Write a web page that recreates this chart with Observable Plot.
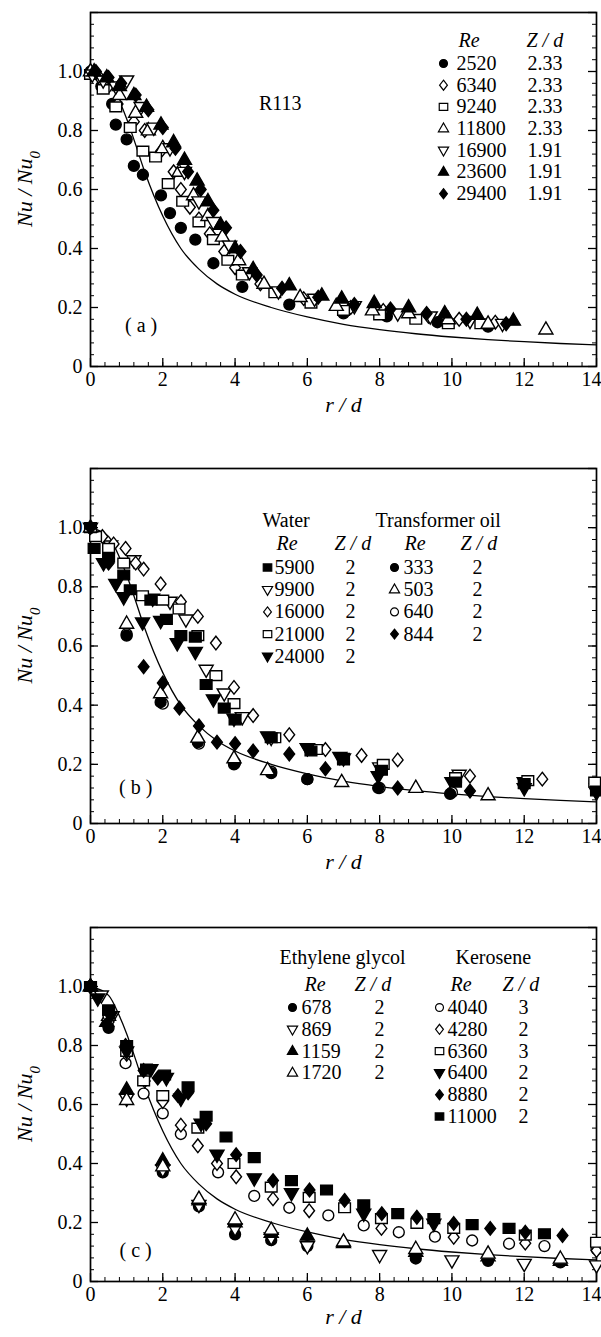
<!DOCTYPE html>
<html><head><meta charset="utf-8">
<script src="https://cdn.jsdelivr.net/npm/d3@7"></script>
<script src="https://cdn.jsdelivr.net/npm/@observablehq/plot@0.6"></script>
<style>
body{margin:0;background:#fff;}
#chart svg{display:block;}
#chart svg text{font-family:"Liberation Serif", serif;}
</style></head><body><div id="chart"></div>
<script>
// ---------- shared correlation curve ----------
const curveR  = [0,0.5,0.8,1.0,1.2,1.5,2.0,2.5,3.0,3.5,4.0,5.0,6.0,7.0,8.0,9.0,10.0,11.0,12.0,13.0,14.0];
const curveNu = [1.0,0.97,0.9,0.84,0.77,0.66,0.51,0.4,0.33,0.28,0.245,0.2,0.168,0.143,0.125,0.111,0.1,0.091,0.084,0.078,0.073];

const xTickLabels = [0,2,4,6,8,10,12];
const xLastTick = [14];
const yTickLabels = [0,0.2,0.4,0.6,0.8,1.0];

// ---------- panel (a) R113 ----------
const R113_re = ["2520","6340","9240","11800","16900","23600","29400"];
const R113_zd = ["2.33","2.33","2.33","2.33","1.91","1.91","1.91"];
const R113_2520_r  = [0,0.3,0.6,0.7,1.0,1.2,1.45,1.95,2.2,2.5,2.9,3.4,4.2,5.5,7.0,8.2,9.6,11.0];
const R113_2520_nu = [1.0,0.95,0.89,0.82,0.77,0.68,0.65,0.58,0.52,0.47,0.43,0.35,0.27,0.21,0.18,0.17,0.15,0.135];
const R113_6340_r  = [0,0.25,0.5,0.75,1.2,1.5,1.95,2.3,2.5,2.75,3.0,3.3,3.7,4.0,4.7,5.9,7.2,8.1,9.35,10.2,11.2];
const R113_6340_nu = [1.0,0.98,0.95,0.89,0.83,0.8,0.73,0.66,0.6,0.54,0.5,0.45,0.39,0.335,0.28,0.23,0.2,0.19,0.17,0.16,0.15];
const R113_9240_r  = [0,0.35,0.7,1.1,1.45,1.8,2.15,2.55,3.0,3.4,3.8,4.2,5.1,6.1,7.0,8.0,9.0,9.9,10.8];
const R113_9240_nu = [0.99,0.94,0.88,0.81,0.73,0.71,0.62,0.56,0.49,0.43,0.36,0.31,0.25,0.215,0.19,0.175,0.16,0.145,0.145];
const R113_11800_r  = [0,0.4,0.8,1.25,1.6,2.0,2.45,2.85,3.25,3.65,4.1,4.8,5.8,6.8,7.8,8.8,9.9,11.0,12.6];
const R113_11800_nu = [1.0,0.97,0.92,0.86,0.8,0.74,0.66,0.58,0.51,0.44,0.36,0.28,0.235,0.205,0.19,0.18,0.16,0.145,0.125];
const R113_16900_r  = [0.05,0.35,0.7,1.0,1.4,1.75,2.2,2.6,3.0,3.4,3.85,4.4,5.2,6.2,7.3,8.5,9.4,10.5,11.4];
const R113_16900_nu = [0.99,0.97,0.95,0.97,0.88,0.81,0.74,0.66,0.56,0.49,0.41,0.32,0.255,0.23,0.205,0.18,0.17,0.155,0.145];
const R113_23600_r  = [0.1,0.45,0.8,1.2,1.55,1.95,2.3,2.6,2.95,3.25,3.6,4.0,4.5,5.5,6.4,6.95,7.85,8.8,9.8,10.7,11.7];
const R113_23600_nu = [1.0,0.98,0.95,0.92,0.88,0.82,0.76,0.7,0.63,0.56,0.48,0.4,0.33,0.275,0.24,0.23,0.215,0.2,0.18,0.175,0.155];
const R113_29400_r  = [0.15,0.5,0.85,1.25,1.6,2.0,2.35,2.7,3.05,3.4,3.75,4.15,4.6,5.3,6.3,7.3,8.3,9.3,10.4,11.5];
const R113_29400_nu = [1.0,0.98,0.96,0.92,0.87,0.81,0.74,0.66,0.6,0.53,0.47,0.39,0.31,0.265,0.235,0.21,0.195,0.18,0.16,0.145];

// ---------- panel (b) water / transformer oil ----------
const water_re = ["5900","9900","16000","21000","24000"];
const water_zd = ["2","2","2","2","2"];
const oil_re = ["333","503","640","844"];
const oil_zd = ["2","2","2","2"];
const water_5900_r  = [0,0.1,0.5,0.92,1.1,1.67,2.1,2.5,2.9,3.2,3.7,4.0,5.0,6.1,7.0,8.05,10.1,12.0,14.0];
const water_5900_nu = [1.0,0.93,0.9,0.84,0.79,0.755,0.69,0.635,0.63,0.47,0.39,0.35,0.29,0.245,0.22,0.18,0.14,0.135,0.11];
const water_9900_r  = [0,0.56,1.2,1.72,2.2,2.64,3.2,3.7,4.2,5.0,6.0,7.0,8.0,10.2,12.0,14.0];
const water_9900_nu = [1.0,0.94,0.89,0.76,0.75,0.69,0.52,0.44,0.36,0.29,0.255,0.22,0.19,0.165,0.14,0.12];
const water_16000_r  = [0,0.33,0.64,0.97,1.25,1.47,1.94,2.5,2.97,3.47,3.97,4.5,5.5,6.5,7.5,8.5,10.5,12.5];
const water_16000_nu = [1.0,0.97,0.945,0.93,0.88,0.86,0.81,0.75,0.7,0.61,0.46,0.365,0.3,0.25,0.23,0.215,0.16,0.15];
const water_21000_r  = [0.14,0.5,0.92,1.44,2.0,2.45,2.97,3.47,3.97,5.1,6.25,7.0,8.1,10.1,12.1,13.95];
const water_21000_nu = [0.97,0.93,0.88,0.77,0.755,0.725,0.635,0.5,0.405,0.29,0.25,0.215,0.2,0.155,0.145,0.14];
const water_24000_r  = [0.36,0.7,0.92,1.44,1.94,2.4,2.9,3.4,3.97,4.9,6.0,6.9,7.96,10.0,12.0,14.0];
const water_24000_nu = [0.88,0.81,0.765,0.68,0.685,0.61,0.58,0.42,0.355,0.295,0.255,0.225,0.16,0.14,0.12,0.105];
const oil_333_r  = [0,1.0,1.94,2.97,3.97,5.0,6.0,7.96,9.95];
const oil_333_nu = [1.0,0.635,0.41,0.275,0.2,0.17,0.15,0.12,0.1];
const oil_503_r  = [0,1.0,1.94,2.97,3.97,4.9,6.95,9.0,11.0];
const oil_503_nu = [1.0,0.675,0.44,0.29,0.22,0.18,0.14,0.12,0.095];
const oil_640_r  = [0,1.0,2.0,3.0,4.0,5.0,6.0,8.0,10.0];
const oil_640_nu = [1.0,0.64,0.405,0.27,0.205,0.175,0.15,0.12,0.105];
const oil_844_r  = [0,0.5,1.47,2.0,2.46,3.0,3.5,4.0,4.5,5.5,6.5,8.5,10.5];
const oil_844_nu = [1.0,0.88,0.53,0.475,0.39,0.33,0.275,0.27,0.245,0.235,0.185,0.12,0.11];

// ---------- panel (c) ethylene glycol / kerosene ----------
const glycol_re = ["678","869","1159","1720"];
const glycol_zd = ["2","2","2","2"];
const kero_re = ["4040","4280","6360","6400","8880","11000"];
const kero_zd = ["3","2","3","2","2","2"];
const glycol_678_r  = [0,0.5,2.0,3.0,4.0,5.0,6.0,9.0,11.0,13.0];
const glycol_678_nu = [1.0,0.86,0.37,0.255,0.16,0.14,0.12,0.078,0.07,0.065];
const glycol_869_r  = [0.3,0.6,1.0,2.0,3.0,4.0,5.0,6.0,8.0,10.0,12.0,14.0];
const glycol_869_nu = [0.97,0.9,0.62,0.38,0.26,0.18,0.15,0.12,0.09,0.072,0.06,0.055];
const glycol_1159_r  = [0,0.45,1.0,2.0,3.0,4.0,5.0,6.0,7.0,9.0,11.0,13.0];
const glycol_1159_nu = [1.0,0.88,0.65,0.41,0.275,0.2,0.165,0.155,0.13,0.1,0.085,0.07];
const glycol_1720_r  = [0,0.5,1.0,2.0,3.0,4.0,5.0,7.0,9.0,11.0,13.0];
const glycol_1720_nu = [1.0,0.9,0.615,0.39,0.28,0.21,0.175,0.135,0.11,0.094,0.077];
const kero_4040_r  = [0,0.5,0.97,1.47,2.0,2.5,3.53,4.53,5.5,6.58,7.56,8.53,9.53,10.56,11.58,12.56,14.0];
const kero_4040_nu = [1.0,0.9,0.74,0.637,0.57,0.5,0.37,0.29,0.25,0.224,0.19,0.167,0.152,0.139,0.128,0.12,0.11];
const kero_4280_r  = [0,0.5,1.0,1.5,2.0,2.5,2.97,3.5,4.03,5.05,6.05,8.05,10.05,12.03,14.0];
const kero_4280_nu = [1.0,0.88,0.77,0.68,0.61,0.53,0.46,0.4,0.355,0.28,0.24,0.18,0.15,0.13,0.105];
const kero_6360_r  = [0,0.5,1.0,1.47,2.0,2.97,3.97,5.0,6.05,7.03,8.05,9.03,10.05,12.03,14.0];
const kero_6360_nu = [1.0,0.92,0.78,0.68,0.63,0.52,0.4,0.32,0.285,0.25,0.213,0.197,0.18,0.157,0.133];
const kero_6400_r  = [0.2,0.55,1.0,1.67,2.1,2.5,3.06,3.5,4.53,5.56,7.56,9.5];
const kero_6400_nu = [0.96,0.9,0.78,0.72,0.69,0.62,0.535,0.43,0.35,0.3,0.23,0.196];
const kero_8880_r  = [0,0.45,0.97,1.47,1.86,2.42,2.7,3.2,4.03,5.05,6.06,7.03,8.06,9.03,10.05,11.06,12.03,13.06];
const kero_8880_nu = [1.0,0.87,0.8,0.715,0.69,0.63,0.64,0.535,0.43,0.342,0.31,0.275,0.23,0.218,0.197,0.18,0.167,0.156];
const kero_11000_r  = [0,0.5,1.0,1.55,2.05,2.7,3.2,3.75,4.53,5.56,6.53,7.56,8.5,9.5,10.56,11.58,12.56];
const kero_11000_nu = [1.0,0.92,0.8,0.72,0.7,0.66,0.56,0.49,0.42,0.342,0.31,0.26,0.23,0.213,0.193,0.18,0.162];

// ---------- styling ----------
const FONT = "Liberation Serif, serif";
const FS = 20;
const W = 601, ML = 90, MR = 5;
const XMAX = 14, YMAX = 1.2;
const pxX = (W - ML - MR) / XMAX;

const SYM = {
  circle: {draw(c, s) { const k = Math.sqrt(s), r = 0.56 * k; c.moveTo(r, 0); c.arc(0, 0, r, 0, 2 * Math.PI); }},
  square: {draw(c, s) { const k = Math.sqrt(s), w = 0.6 * k, h = 0.5 * k; c.moveTo(-w, -h); c.lineTo(w, -h); c.lineTo(w, h); c.lineTo(-w, h); c.closePath(); }},
  diamond: {draw(c, s) { const k = Math.sqrt(s), w = 0.55 * k, h = 0.7 * k; c.moveTo(0, -h); c.lineTo(w, 0); c.lineTo(0, h); c.lineTo(-w, 0); c.closePath(); }},
  up: {draw(c, s) { const k = Math.sqrt(s); c.moveTo(0, -0.8 * k); c.lineTo(0.72 * k, 0.45 * k); c.lineTo(-0.72 * k, 0.45 * k); c.closePath(); }},
  down: {draw(c, s) { const k = Math.sqrt(s); c.moveTo(0, 0.8 * k); c.lineTo(0.72 * k, -0.45 * k); c.lineTo(-0.72 * k, -0.45 * k); c.closePath(); }}
};

function series(rs, nus, shape, filled) {
  return {data: rs.map((r, i) => ({r, nu: nus[i]})), shape, filled};
}
function range(a, b, step) { const out = []; for (let v = a; v <= b + 1e-9; v += step) out.push(+v.toFixed(4)); return out; }

function makePanel({height, mt, mb, xTitleOffset, list, legendCols, notes, titles}) {
  const plotH = height - mt - mb;
  const pxY = plotH / YMAX;
  const dx = X => (X - ML) / pxX;           // svg px -> data x
  const dy = Y => (height - mb - Y) / pxY;  // svg px -> data y
  const marks = [];
  const yMinor = range(0, YMAX, 0.04), yMajor = range(0, YMAX, 0.2);
  const xMinor = range(0, XMAX, 0.4), xMajor = range(0, XMAX, 2);
  marks.push(Plot.ruleY(yMinor, {y: d => d, x1: 0, x2: 4 / pxX, stroke: "black", strokeWidth: 1}));
  marks.push(Plot.ruleY(yMajor, {y: d => d, x1: 0, x2: 8 / pxX, stroke: "black", strokeWidth: 1.3}));
  marks.push(Plot.ruleY(yMinor, {y: d => d, x1: XMAX - 4 / pxX, x2: XMAX, stroke: "black", strokeWidth: 1}));
  marks.push(Plot.ruleY(yMajor, {y: d => d, x1: XMAX - 8 / pxX, x2: XMAX, stroke: "black", strokeWidth: 1.3}));
  marks.push(Plot.ruleX(xMinor, {x: d => d, y1: 0, y2: 4 / pxY, stroke: "black", strokeWidth: 1}));
  marks.push(Plot.ruleX(xMajor, {x: d => d, y1: 0, y2: 8 / pxY, stroke: "black", strokeWidth: 1.3}));
  marks.push(Plot.frame({stroke: "black", strokeWidth: 1.7}));
  marks.push(Plot.axisX({ticks: xTickLabels, tickSize: 0, tickPadding: 5, tickFormat: d => String(d), label: null, fontSize: FS}));
  marks.push(Plot.text(xLastTick, {x: d => d, y: 0, dy: 5, dx: -5, lineAnchor: "top", text: d => String(d), fontSize: FS}));
  marks.push(Plot.axisY({ticks: yTickLabels, tickSize: 0, tickPadding: 8, tickFormat: d => d === 0 ? "0" : d.toFixed(1), label: null, fontSize: FS}));
  marks.push(Plot.line(curveR.map((r, i) => ({r, nu: curveNu[i]})), {x: "r", y: "nu", stroke: "black", strokeWidth: 1.3, curve: "monotone-x"}));
  for (const s of list) {
    marks.push(Plot.dot(s.data, {x: "r", y: "nu", symbol: SYM[s.shape], r: 5.5,
      fill: s.filled ? "black" : "white", stroke: "black", strokeWidth: 1.4}));
  }
  for (const n of notes) {
    marks.push(Plot.text([n.text], {x: n.x, y: n.y, text: d => d, textAnchor: "middle", fontSize: FS}));
  }
  for (const t of titles) {
    marks.push(Plot.text([t.text], {x: dx(t.X), y: dy(t.Y), text: d => d, textAnchor: "start", fontStyle: t.italic ? "italic" : "normal", fontSize: FS}));
  }
  for (const col of legendCols) {
    col.re.forEach((re, i) => {
      const Y = col.Y0 + i * col.step;
      const s = col.items[i];
      marks.push(Plot.dot([0], {x: dx(col.symX), y: dy(Y), symbol: SYM[s.shape], r: 4,
        fill: s.filled ? "black" : "white", stroke: "black", strokeWidth: 1.2}));
      marks.push(Plot.text([re], {x: dx(col.reX), y: dy(Y), text: d => d, textAnchor: "start", fontSize: FS}));
      marks.push(Plot.text([col.zd[i]], {x: dx(col.zdX), y: dy(Y), text: d => d, textAnchor: col.zdAnchor, fontSize: FS}));
    });
  }
  marks.push(Plot.text(["r / d"], {frameAnchor: "bottom", dy: xTitleOffset, text: d => d, fontStyle: "italic", fontSize: 22}));
  const svg = Plot.plot({
    width: W, height, marginLeft: ML, marginRight: MR, marginTop: mt, marginBottom: mb,
    x: {domain: [0, XMAX]}, y: {domain: [0, YMAX]},
    style: "font-family: Liberation Serif, serif; font-size: 20px; background: white; color: black; overflow: visible;",
    marks
  });
  const t = d3.select(svg).append("text")
    .attr("transform", `translate(24,${mt + plotH / 2}) rotate(-90)`)
    .attr("text-anchor", "middle").attr("dy", "0.35em")
    .attr("font-style", "italic").attr("font-size", 22);
  t.append("tspan").text("Nu / Nu");
  t.append("tspan").attr("baseline-shift", "sub").attr("font-size", 15).text("0");
  d3.select(svg).selectAll("text").style("font-family", FONT);
  return svg;
}

const shapesA = ["circle","diamond","square","up","down","up","diamond"];
const filledA = [true,false,false,false,false,true,true];
const listA = [
  series(R113_2520_r, R113_2520_nu, shapesA[0], filledA[0]),
  series(R113_6340_r, R113_6340_nu, shapesA[1], filledA[1]),
  series(R113_9240_r, R113_9240_nu, shapesA[2], filledA[2]),
  series(R113_11800_r, R113_11800_nu, shapesA[3], filledA[3]),
  series(R113_16900_r, R113_16900_nu, shapesA[4], filledA[4]),
  series(R113_23600_r, R113_23600_nu, shapesA[5], filledA[5]),
  series(R113_29400_r, R113_29400_nu, shapesA[6], filledA[6])
];

const shapesW = ["square","down","diamond","square","down"];
const filledW = [true,false,false,false,true];
const shapesO = ["circle","up","circle","diamond"];
const filledO = [true,false,false,true];
const listB = [
  series(water_9900_r, water_9900_nu, shapesW[1], filledW[1]),
  series(water_16000_r, water_16000_nu, shapesW[2], filledW[2]),
  series(water_21000_r, water_21000_nu, shapesW[3], filledW[3]),
  series(water_5900_r, water_5900_nu, shapesW[0], filledW[0]),
  series(water_24000_r, water_24000_nu, shapesW[4], filledW[4]),
  series(oil_640_r, oil_640_nu, shapesO[2], filledO[2]),
  series(oil_333_r, oil_333_nu, shapesO[0], filledO[0]),
  series(oil_503_r, oil_503_nu, shapesO[1], filledO[1]),
  series(oil_844_r, oil_844_nu, shapesO[3], filledO[3])
];

const shapesG = ["circle","down","up","up"];
const filledG = [true,false,true,false];
const shapesK = ["circle","diamond","square","down","diamond","square"];
const filledK = [false,false,false,true,true,true];
const listC = [
  series(glycol_678_r, glycol_678_nu, shapesG[0], filledG[0]),
  series(glycol_869_r, glycol_869_nu, shapesG[1], filledG[1]),
  series(glycol_1159_r, glycol_1159_nu, shapesG[2], filledG[2]),
  series(glycol_1720_r, glycol_1720_nu, shapesG[3], filledG[3]),
  series(kero_4040_r, kero_4040_nu, shapesK[0], filledK[0]),
  series(kero_4280_r, kero_4280_nu, shapesK[1], filledK[1]),
  series(kero_6360_r, kero_6360_nu, shapesK[2], filledK[2]),
  series(kero_6400_r, kero_6400_nu, shapesK[3], filledK[3]),
  series(kero_8880_r, kero_8880_nu, shapesK[4], filledK[4]),
  series(kero_11000_r, kero_11000_nu, shapesK[5], filledK[5])
];

const items = (shapes, filled) => shapes.map((shape, i) => ({shape, filled: filled[i]}));
const root = document.getElementById("chart");

root.appendChild(makePanel({
  height: 440, mt: 12, mb: 74, xTitleOffset: 45, list: listA,
  notes: [{text: "( a )", x: 1.4, y: 0.14}, {text: "R113", x: 5.25, y: 0.89}],
  titles: [{text: "Re", X: 458, Y: 40, italic: true}, {text: "Z / d", X: 526, Y: 40, italic: true}],
  legendCols: [{re: R113_re, zd: R113_zd, items: items(shapesA, filledA), Y0: 63, step: 21.7, symX: 443, reX: 456, zdX: 527, zdAnchor: "start"}]
}));

root.appendChild(makePanel({
  height: 457, mt: 28, mb: 74, xTitleOffset: 45, list: listB,
  notes: [{text: "( b )", x: 1.25, y: 0.12}],
  titles: [
    {text: "Water", X: 262, Y: 80}, {text: "Transformer oil", X: 375, Y: 80},
    {text: "Re", X: 276, Y: 103, italic: true}, {text: "Z / d", X: 334, Y: 103, italic: true},
    {text: "Re", X: 404, Y: 103, italic: true}, {text: "Z / d", X: 460, Y: 103, italic: true}
  ],
  legendCols: [
    {re: water_re, zd: water_zd, items: items(shapesW, filledW), Y0: 127, step: 22.2, symX: 267, reX: 274, zdX: 350, zdAnchor: "middle"},
    {re: oil_re, zd: oil_zd, items: items(shapesO, filledO), Y0: 127, step: 22.2, symX: 394, reX: 403, zdX: 477, zdAnchor: "middle"}
  ]
}));

root.appendChild(makePanel({
  height: 440, mt: 30, mb: 56, xTitleOffset: 42, list: listC,
  notes: [{text: "( c )", x: 1.25, y: 0.105}],
  titles: [
    {text: "Ethylene glycol", X: 279, Y: 60}, {text: "Kerosene", X: 455, Y: 60},
    {text: "Re", X: 304, Y: 87, italic: true}, {text: "Z / d", X: 354, Y: 87, italic: true},
    {text: "Re", X: 450, Y: 87, italic: true}, {text: "Z / d", X: 502, Y: 87, italic: true}
  ],
  legendCols: [
    {re: glycol_re, zd: glycol_zd, items: items(shapesG, filledG), Y0: 110, step: 21.8, symX: 292, reX: 301, zdX: 379, zdAnchor: "middle"},
    {re: kero_re, zd: kero_zd, items: items(shapesK, filledK), Y0: 110, step: 21.8, symX: 439, reX: 447, zdX: 523, zdAnchor: "middle"}
  ]
}));
</script></body></html>
